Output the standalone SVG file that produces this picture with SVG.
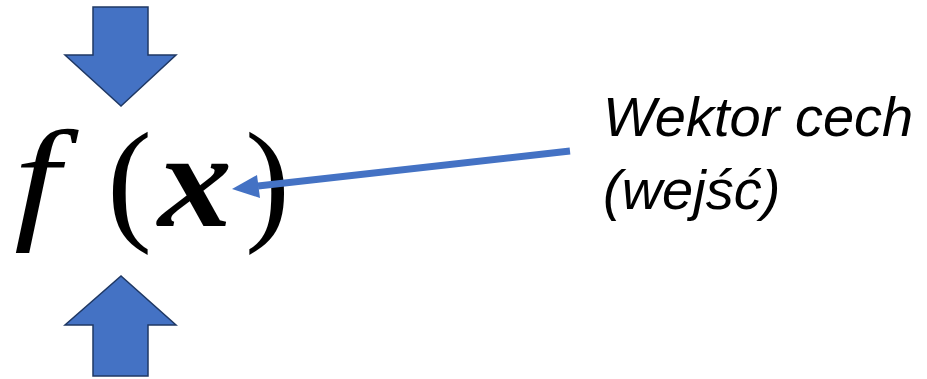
<svg xmlns="http://www.w3.org/2000/svg" width="927" height="379" viewBox="0 0 927 379">
<style>
.blk{fill:#4472C4;stroke:#1F3864;stroke-width:1.5;stroke-linejoin:miter}
.math{font-family:"Liberation Serif","DejaVu Serif",serif;font-size:135px;fill:#000}
.lbl{font-family:"Liberation Sans","Noto Sans",sans-serif;font-style:italic;font-size:56px;fill:#000}
</style>
<g id="arrow-top">
<path class="blk" d="M93,7 H148 V55 H176 L121,106 L65,55 H93 Z"/>
</g>
<g id="arrow-bottom">
<path class="blk" d="M93,376 H148 V325 H176 L121,276 L65,325 H93 Z"/>
</g>
<g id="formula">
<text class="math" transform="translate(14,224) scale(1.22,1)" x="0" y="0" font-style="italic" font-size="145">f</text>
<text class="math" x="107" y="226">(</text>
<text class="math" x="158" y="226" font-style="italic" font-weight="bold" textLength="74" lengthAdjust="spacingAndGlyphs">x</text>
<text class="math" x="245" y="226">)</text>
</g>
<g id="label">
<text class="lbl" x="603" y="136">Wektor cech</text>
<text class="lbl" x="603" y="209">(wejść)</text>
</g>
<g id="connectors">
<line x1="570" y1="151" x2="258" y2="186" stroke="#4472C4" stroke-width="7"/>
<path d="M232,189 L257,175 L260,198 Z" fill="#4472C4"/>
</g>
</svg>
